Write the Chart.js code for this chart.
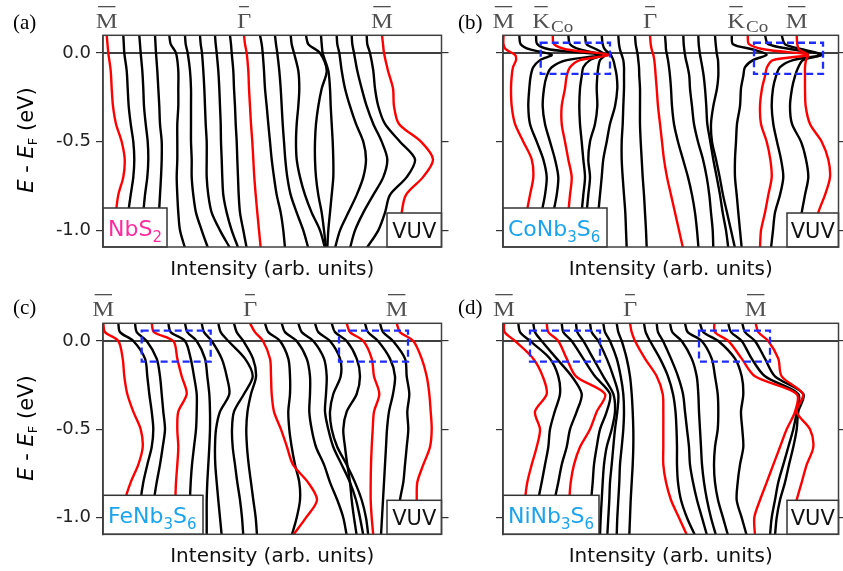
<!DOCTYPE html>
<html>
<head>
<meta charset="utf-8">
<script src="https://cdn.jsdelivr.net/npm/chart.js@4.4.0/dist/chart.umd.min.js"></script>
<style>
  body { margin: 0; background: #fff; }
  canvas { position: absolute; }
</style>
</head>
<body>
<canvas id="ca" width="455" height="285" style="left:0;top:0"></canvas>
<canvas id="cb" width="388" height="285" style="left:455px;top:0"></canvas>
<canvas id="cc" width="455" height="286" style="left:0;top:285px"></canvas>
<canvas id="cd" width="388" height="286" style="left:455px;top:285px"></canvas>
<script>
// binding energies (eV) at which each EDC was read
const energyLevels = [0.1, 0.05, 0, -0.1, -0.2, -0.3, -0.4, -0.5, -0.6, -0.7, -0.8, -0.9, -1.0, -1.1];
const energyLevelsCo = [0.1, 0.05, 0.02, -0.01, -0.04, -0.08, -0.13, -0.2, -0.3, -0.4, -0.5, -0.6, -0.7, -0.8, -0.9, -1.0, -1.1];
const yTicks = [-1.0, -0.5, 0.0];

// which curves are red (high-symmetry cuts)
const redNbS2 = [0, 9, 18];
const redOther = [0, 3, 9, 15, 18];

// intensity + offset of each EDC, one row per curve
const curvesNbS2 = [
  [3.7, 4.5, 5.3, 7.7, 8.7, 10, 13, 18.7, 21.7, 20.3, 15.3, 13, 12, 11.3],
  [20.3, 20.8, 21.3, 23.7, 24.7, 25.7, 27.7, 30.3, 31.3, 30.3, 27.7, 25.3, 24.3, 23.7],
  [36.3, 37, 37.7, 39.3, 40.3, 41, 42.7, 44.7, 45.3, 44.3, 42, 40.3, 39, 38],
  [52, 52.5, 53, 54.3, 55.3, 56.3, 57, 58.7, 58.7, 58, 57, 56, 55, 54],
  [66.3, 67.7, 73, 75.3, 75.3, 75.3, 74.3, 74.3, 74.3, 73.7, 74.3, 75.3, 77, 82],
  [82, 82.7, 84.7, 87, 88, 88, 88, 88, 88.7, 88.7, 90.3, 93, 98.7, 105],
  [97, 97.7, 99, 100.3, 101.3, 102, 102.7, 103.7, 103.7, 103.7, 105.3, 108.7, 117, 127],
  [112, 112.7, 113.7, 115.3, 116.3, 117, 117.7, 118, 118.7, 119.3, 120.3, 123.7, 128.7, 135.3],
  [127, 128, 128.7, 130.3, 131, 132, 132.7, 133.7, 134.3, 135, 135.7, 137, 140.3, 143.7],
  [141, 142, 143.7, 145.3, 146, 147, 148, 149.3, 150.3, 151.3, 152.7, 154.3, 156, 157.7],
  [157, 158.7, 159.7, 161, 162, 163.7, 165.3, 167, 168.7, 171, 173.7, 177.7, 180.3, 182],
  [172, 173, 174.3, 176.3, 177.7, 178.7, 179.7, 181, 182.3, 184.3, 187.7, 193.7, 200.3, 205.3],
  [187.7, 188.7, 191, 195.3, 196.3, 195.3, 193.7, 193, 193.7, 197, 202, 208.7, 217, 222],
  [203, 205.3, 217, 223.7, 218.7, 215.3, 213, 212, 212, 213, 215.3, 218.7, 221, 223],
  [218, 218.7, 219.7, 225.3, 227, 227.7, 228.7, 229.7, 230.3, 230.3, 228.7, 227, 225.3, 224.3],
  [233.7, 234.3, 236.3, 238.7, 242, 247, 253, 260.3, 263, 260.3, 253.7, 245.3, 237, 232],
  [248.7, 249.3, 251, 254.3, 258.7, 263.7, 270.3, 278.7, 284.3, 280.3, 270.3, 260.3, 252, 247],
  [263.7, 264.3, 267, 270.3, 272, 275.3, 282, 297, 312, 303.7, 287, 282, 275.3, 263.7],
  [279, 280, 281, 285, 290, 291, 296, 318, 330, 320, 303, 298.7, 297, 296]
];

const curvesCo = [
  [0.5, 0.5, 3, 12, 13, 10, 8.7, 8, 8.7, 12, 20.3, 28.7, 30.3, 27, 23.7, 22, 21],
  [16.3, 17.7, 27, 48.7, 37, 30.3, 27.7, 26.3, 25.3, 27, 33.7, 40.3, 43.7, 42, 38.7, 37, 36.3],
  [33, 34.3, 47, 97, 63.7, 48.7, 43.7, 41, 39.7, 42, 47, 52, 55.3, 53.7, 50.3, 47, 46.3],
  [49.7, 51, 63.7, 105.3, 77, 67, 63.7, 62, 58.7, 58.7, 62, 65.3, 68.7, 67, 65.3, 63.7, 63],
  [65.3, 67, 77, 98.7, 87, 80.3, 78.7, 77, 76.3, 77, 78.7, 80.3, 82, 80.3, 78.7, 78, 77.7],
  [82, 83.7, 93.7, 102, 97, 95.3, 94.3, 93.7, 94.3, 92, 87, 85.3, 87, 85.3, 83.7, 83, 82.3],
  [98.7, 99.7, 102, 107.7, 110.3, 112, 113.7, 114.3, 112, 107, 103.7, 100.3, 98.7, 97, 95.3, 93.7, 93.7],
  [115.3, 116, 117, 118.7, 120.3, 121, 121, 121, 120.3, 119.7, 118.7, 118.7, 119.7, 121, 122.3, 123, 123.7],
  [132, 132.7, 133.7, 134.7, 135.3, 136, 136.3, 137, 137, 137, 137.7, 138.7, 139.7, 141, 142, 143, 143.7],
  [147, 147.7, 148.7, 150.3, 151.3, 152, 152.7, 153.7, 155, 157, 159, 161, 164, 168, 172, 176, 180],
  [162, 162.7, 163, 164, 165, 166, 167, 168, 169, 171, 175, 180, 185, 189, 192, 194, 195.5],
  [180.3, 180.7, 181.3, 182, 183, 184.7, 186.3, 187, 189, 191, 195, 200, 203.7, 206.3, 208, 209.7, 210.3],
  [195.3, 195.7, 196.3, 197, 198, 199.3, 200.7, 202, 203.3, 204.3, 207.3, 210.3, 213.7, 217, 219.7, 223, 225.3],
  [212, 212.7, 213.3, 214, 215, 215.3, 215.3, 214, 210.3, 208, 209, 213, 216.7, 220, 224, 228, 232],
  [228.7, 230, 250, 263.7, 250, 242, 240.3, 238, 237, 234, 233, 232, 232, 233.7, 235.3, 237, 238.7],
  [244.7, 246, 262, 305, 270, 264, 262, 259, 257, 258, 263.7, 267.3, 268.7, 265.3, 262, 258, 257],
  [262, 265.3, 290, 318.7, 290, 277, 273, 270, 268.7, 270.3, 274, 278, 280.3, 277, 272, 270, 268],
  [278.7, 282, 300, 318.7, 300, 295.3, 292, 289, 287, 289, 298, 303, 305.3, 302, 298.7, 296, 295],
  [293.7, 294.3, 296, 305, 303, 302, 302, 302, 302.7, 307, 318.7, 325.3, 327, 322, 315.3, 312, 310]
];

const curvesFe = [
  [0.3, 2, 15.3, 19.7, 21.3, 24.3, 30.3, 37.7, 39.7, 35.3, 27.7, 22, 19.7, 18.7],
  [15.3, 17, 30.3, 42, 44.3, 46.3, 48.7, 50.3, 48.7, 44.3, 40.3, 37.7, 36.3, 35.3],
  [32, 33.7, 43.7, 53.7, 57, 58.7, 60.3, 62, 59.7, 57, 53.7, 51, 49.7, 48.7],
  [48.7, 51, 70.3, 74.3, 78.7, 83.7, 75.3, 74.3, 75.3, 74.3, 73, 72.3, 71.7, 71],
  [65.3, 67.7, 82, 87.7, 91, 93.7, 93.7, 93, 91, 89, 87.7, 87, 87, 87],
  [82, 84.3, 93.7, 102, 104.3, 106.3, 107, 107, 106.3, 105.3, 104.3, 103.7, 103.7, 103.7],
  [98.7, 101, 108.7, 118.7, 123.7, 126.3, 117, 113, 112, 112.3, 113.7, 115.3, 117, 118.7],
  [115.3, 117.7, 125.3, 142, 149.7, 141, 131, 129, 129.7, 132, 134.3, 137, 139, 140.3],
  [131, 133.7, 140.3, 150, 153, 148, 144.5, 143.3, 144, 145.7, 148, 150.3, 152.7, 154],
  [147, 152, 160, 167, 168, 168.7, 171, 178, 184, 190, 205, 214, 203, 190],
  [162, 165.3, 177, 185.3, 187, 187, 185.3, 186.3, 188.7, 192, 196.3, 197, 193.7, 188.7],
  [178.7, 182, 193.7, 203.7, 207, 207, 206.3, 208.7, 213, 221, 227, 234.3, 240.3, 243.7],
  [195.3, 198.7, 210.3, 221, 223.7, 223, 222, 225.3, 230.3, 238.7, 247, 253, 257, 260.3],
  [212, 215.3, 227, 237, 237.7, 230.3, 227, 228.7, 234.3, 243.7, 252, 258.7, 263, 265.3],
  [228.7, 232, 243.7, 253.7, 257, 253.7, 243.7, 240.3, 242, 244.3, 247, 248.7, 251, 253.7],
  [243.7, 247, 260.3, 268.7, 271, 276.3, 271, 269.7, 268.7, 268, 267.7, 267.7, 268.7, 270.3],
  [262, 265, 275, 287, 292, 290, 286, 284, 283, 282, 281, 280, 279, 278],
  [277, 280, 290, 302, 303.7, 306.3, 304.3, 305.3, 303.7, 302, 300.3, 297, 296.3, 295.7],
  [293.7, 297, 310.3, 318.7, 323.7, 326.3, 327.7, 328.7, 327, 320.3, 314.3, 313.7, 313, 312.3]
];

const curvesNi = [
  [1, 1.7, 12, 30.3, 39.7, 43.7, 32, 37, 33.7, 28.7, 24.3, 22, 21, 20.3],
  [15.3, 17, 27, 47, 55.3, 57, 51.7, 47, 45.3, 42, 38.7, 35.3, 33.7, 33],
  [30.3, 32, 38.7, 53.7, 68.7, 78.7, 73.7, 67, 63.7, 58.7, 55.3, 51.7, 50, 49],
  [43.7, 45.3, 55.3, 63.7, 73, 102, 93.7, 87, 77, 71, 67.7, 66.3, 65.3, 64.7],
  [58.7, 60.3, 68.7, 80.3, 92, 107, 103.7, 97, 93.7, 91, 89.7, 88.3, 88.7, 87],
  [73, 74.3, 80.3, 90.3, 100.3, 110.3, 112, 108.7, 103.7, 101, 99.7, 98.7, 97.7, 97],
  [87, 88.7, 95.3, 103.7, 110.3, 115.3, 114.3, 112, 110.3, 108.7, 107, 106.3, 105.3, 104.3],
  [100.3, 102, 107, 113.7, 117.7, 120.3, 121, 120.3, 118.7, 117, 116.3, 115.3, 114.3, 113.7],
  [113.7, 115.3, 118.7, 123.7, 127, 128.7, 129.7, 130.3, 130.3, 129.7, 128.7, 127.7, 127, 126.3],
  [127, 128.7, 132, 142, 153.7, 159.7, 160.3, 160.3, 160.3, 160.3, 163, 168, 176, 184],
  [141, 142.7, 147, 157, 165, 170, 172.5, 173.5, 174, 174, 175, 178, 184, 192],
  [153.7, 155, 160, 168, 175, 180, 182, 184, 186, 187, 190, 194, 199, 204],
  [167, 169.3, 178.7, 188.7, 193.7, 195.3, 196, 197, 198, 199, 201, 204, 208, 213],
  [182, 184.7, 198.7, 208.7, 212, 214.7, 215.3, 214.7, 212, 211, 212, 215, 220, 225],
  [197, 200.3, 215.3, 232, 238.7, 240.3, 238, 239.3, 240.3, 237, 234.7, 233.7, 238.7, 243.7],
  [211.3, 212, 225.3, 238.7, 252, 293.7, 292, 283.7, 277, 270.3, 263.7, 257, 251.3, 252],
  [225.3, 228, 238.7, 248.7, 262, 295.3, 293.7, 290.3, 285.3, 280.3, 275.3, 272, 268.7, 267],
  [239.3, 242, 252, 262, 272, 300.3, 295.3, 293.7, 290.3, 286, 282, 277, 273.7, 272],
  [252.7, 255.3, 265.3, 275.3, 278.7, 300, 293.7, 307, 310.3, 303.7, 298.7, 293.7, 290.3, 288.7]
];

// high-symmetry labels: [curve index, letter, subscript]
const pointsNbS2 = [[0, 'M'], [9, 'Γ'], [18, 'M']];
const pointsCo = [[0, 'M'], [3, 'K', 'Co'], [9, 'Γ'], [15, 'K', 'Co'], [18, 'M']];
const pointsFeNi = [[0, 'M'], [9, 'Γ'], [18, 'M']];

// dashed windows: [x0, x1, E top, E bottom]
const boxesCo = [[37.7, 107, 0.058, -0.118], [251, 320, 0.058, -0.118]];
const boxesFe = [[38.7, 107.7, 0.058, -0.117], [236, 305, 0.058, -0.117]];
const boxesNi = [[27, 97, 0.058, -0.117], [196, 267, 0.058, -0.117]];

const SANS = '"DejaVu Sans", sans-serif';
const SERIF = '"Liberation Serif", serif';

const panels = [
  { id: 'ca', w: 455, h: 285, L: 103, R: 441.5, T: 35.3, B: 247, xMax: 338.5,
    energies: energyLevels, curves: curvesNbS2, red: redNbS2, points: pointsNbS2, boxes: [],
    name: [['NbS', 0], ['2', 1]], nameColor: '#ff2a9d', nameW: 64, letter: '(a)', yLabels: true, titlePad: 3, yTitle: 140 },
  { id: 'cb', w: 388, h: 285, L: 48, R: 383.5, T: 35.3, B: 247, xMax: 335.5,
    energies: energyLevelsCo, curves: curvesCo, red: redOther, points: pointsCo, boxes: boxesCo,
    name: [['CoNb', 0], ['3', 1], ['S', 0], ['6', 1]], nameColor: '#1aa3ee', nameW: 104, letter: '(b)', yLabels: false, titlePad: 3 },
  { id: 'cc', w: 455, h: 286, L: 103, R: 441.5, T: 38.3, B: 249.3, xMax: 338.5,
    energies: energyLevels, curves: curvesFe, red: redOther, points: pointsFeNi, boxes: boxesFe,
    name: [['FeNb', 0], ['3', 1], ['S', 0], ['6', 1]], nameColor: '#1aa3ee', nameW: 100, letter: '(c)', yLabels: true, titlePad: 2, yTitle: 143 },
  { id: 'cd', w: 388, h: 286, L: 48, R: 383.5, T: 38.3, B: 249.3, xMax: 335.5,
    energies: energyLevels, curves: curvesNi, red: redOther, points: pointsFeNi, boxes: boxesNi,
    name: [['NiNb', 0], ['3', 1], ['S', 0], ['6', 1]], nameColor: '#1aa3ee', nameW: 96, letter: '(d)', yLabels: false, titlePad: 2 }
];

function drawRich(ctx, parts, x, y, size, family) {
  let cx = x;
  parts.forEach(([t, sub]) => {
    const s = sub ? Math.round(size * 0.68) : size;
    ctx.font = s + 'px ' + family;
    ctx.fillText(t, cx, y + (sub ? size * 0.28 : 0));
    cx += ctx.measureText(t).width;
  });
  return cx - x;
}

function richWidth(ctx, parts, size, family) {
  let w = 0;
  parts.forEach(([t, sub]) => {
    ctx.font = (sub ? Math.round(size * 0.68) : size) + 'px ' + family;
    w += ctx.measureText(t).width;
  });
  return w;
}

const decor = {
  id: 'decor',
  beforeDatasetsDraw(chart) {
    const p = chart.options.plugins.decor.panel;
    const { ctx, chartArea: a, scales: { y } } = chart;
    ctx.save();
    ctx.strokeStyle = '#000';
    ctx.lineWidth = 1.5;
    const y0 = y.getPixelForValue(0);
    ctx.beginPath();
    ctx.moveTo(a.left, y0);
    ctx.lineTo(a.right, y0);
    ctx.stroke();
    ctx.restore();
  },
  afterDatasetsDraw(chart) {
    const p = chart.options.plugins.decor.panel;
    const { ctx, chartArea: a, scales: { x, y } } = chart;
    ctx.save();
    // dashed windows
    ctx.strokeStyle = '#1f2cff';
    ctx.lineWidth = 2.3;
    ctx.setLineDash([7, 4]);
    p.boxes.forEach(b => {
      const x0 = x.getPixelForValue(b[0]), x1 = x.getPixelForValue(b[1]);
      const y0 = y.getPixelForValue(b[2]), y1 = y.getPixelForValue(b[3]);
      ctx.strokeRect(x0, y0, x1 - x0, y1 - y0);
    });
    ctx.setLineDash([]);

    // sample name box
    const bh = 39;
    ctx.fillStyle = '#fff';
    ctx.strokeStyle = '#333';
    ctx.lineWidth = 1.5;
    ctx.fillRect(a.left, a.bottom - bh, p.nameW, bh);
    ctx.strokeRect(a.left, a.bottom - bh, p.nameW, bh);
    ctx.fillStyle = p.nameColor;
    ctx.textBaseline = 'alphabetic';
    drawRich(ctx, p.name, a.left + 5, a.bottom - bh / 2 + 8, 22, SANS);

    // VUV box
    const vw = a.right - x.getPixelForValue(284);
    const vh = 34;
    ctx.fillStyle = '#fff';
    ctx.fillRect(a.right - vw, a.bottom - vh, vw, vh);
    ctx.strokeRect(a.right - vw, a.bottom - vh, vw, vh);
    ctx.fillStyle = '#111';
    ctx.font = '21px ' + SANS;
    ctx.textAlign = 'center';
    ctx.fillText('VUV', a.right - vw / 2, a.bottom - vh / 2 + 8);
    ctx.textAlign = 'left';

    // frame
    ctx.strokeStyle = '#404040';
    ctx.lineWidth = 1.5;
    ctx.strokeRect(a.left, a.top, a.right - a.left, a.bottom - a.top);
    ctx.restore();
  },
  afterDraw(chart) {
    const p = chart.options.plugins.decor.panel;
    const { ctx, chartArea: a, scales: { x } } = chart;
    ctx.save();
    ctx.textBaseline = 'alphabetic';
    // high-symmetry point labels with overbar
    p.points.forEach(([i, t, sub]) => {
      const xc = x.getPixelForValue(p.curves[i][0]);
      ctx.save();
      ctx.translate(xc, a.top - 7.3);
      ctx.scale(1.12, 1);
      ctx.font = '22px ' + SERIF;
      const wT = ctx.measureText(t).width;
      let wS = 0;
      if (sub) { ctx.font = '17px ' + SERIF; wS = ctx.measureText(sub).width + 1; }
      const x0 = -(wT + wS) / 2;
      ctx.fillStyle = '#505050';
      ctx.font = '22px ' + SERIF;
      ctx.fillText(t, x0, 0);
      ctx.fillRect(x0 + 2, -22, wT - 4, 1.3);
      if (sub) { ctx.font = '17px ' + SERIF; ctx.fillText(sub, x0 + wT + 1, 4); }
      ctx.restore();
    });
    // panel letter
    ctx.fillStyle = '#000';
    ctx.font = '21px ' + SERIF;
    ctx.fillText(p.letter, p.yLabels ? 13 : 3, 28.5);
    // y title
    if (p.yLabels) {
      const parts = [['E', 'i'], [' - ', 'n'], ['E', 'i'], ['F', 's'], [' (eV)', 'n']];
      const fontOf = k => k === 'i' ? 'italic 21px ' + SANS : k === 's' ? '13px ' + SANS : '21px ' + SANS;
      let tw = 0;
      parts.forEach(([t, k]) => { ctx.font = fontOf(k); tw += ctx.measureText(t).width; });
      ctx.translate(33, p.yTitle);
      ctx.rotate(-Math.PI / 2);
      let cx = -tw / 2;
      parts.forEach(([t, k]) => {
        ctx.font = fontOf(k);
        ctx.fillText(t, cx, k === 's' ? 4 : 0);
        cx += ctx.measureText(t).width;
      });
    }
    ctx.restore();
  }
};

function yAxis(position, width, labels) {
  return {
    type: 'linear',
    position: position,
    min: -1.094,
    max: 0.1,
    afterBuildTicks: s => { s.ticks = yTicks.map(v => ({ value: v })); },
    afterFit: s => { s.width = width; },
    ticks: {
      display: labels,
      padding: 5,
      color: '#222',
      font: { family: 'DejaVu Sans', size: 18 },
      callback: v => Number(v).toFixed(1)
    },
    grid: { display: true, drawOnChartArea: false, drawTicks: true, tickLength: 7, color: '#333', lineWidth: 1.2 },
    border: { display: position === 'left', color: '#404040', width: 1.5 }
  };
}

panels.forEach(p => {
  const datasets = p.curves.map((vals, i) => {
    const isRed = p.red.includes(i);
    return {
      data: p.energies.map((e, k) => ({ x: vals[k], y: e })),
      showLine: true,
      borderColor: isRed ? '#ff0000' : '#000000',
      borderWidth: 2.4,
      pointRadius: 0,
      tension: 0.3,
      order: isRed ? 0 : 1
    };
  });

  new Chart(document.getElementById(p.id), {
    type: 'scatter',
    data: { datasets: datasets },
    plugins: [decor],
    options: {
      responsive: false,
      animation: false,
      events: [],
      layout: { padding: { left: 0, top: p.T, right: p.w - p.R, bottom: 0 } },
      plugins: {
        legend: { display: false },
        tooltip: { enabled: false },
        decor: { panel: p }
      },
      scales: {
        x: {
          type: 'linear',
          min: 0,
          max: p.xMax,
          afterFit: s => { s.height = p.h - p.B; },
          ticks: { display: false },
          grid: { display: false },
          border: { display: false },
          title: {
            display: true,
            text: 'Intensity (arb. units)',
            color: '#111',
            font: { family: 'DejaVu Sans', size: 20 },
            padding: { top: 0, bottom: p.titlePad }
          }
        },
        y: yAxis('left', p.L, p.yLabels),
        y2: yAxis('right', 0, false)
      }
    }
  });
});
</script>
</body>
</html>
